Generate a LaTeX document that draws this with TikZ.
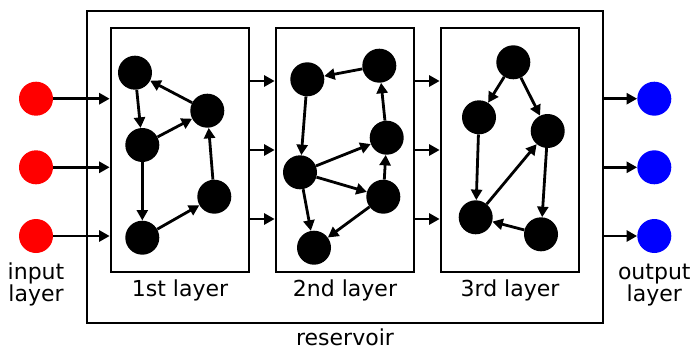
\documentclass[tikz,border=0pt]{standalone}
\usepackage{fontspec}
\setmainfont{DejaVu Sans}
\usetikzlibrary{arrows.meta}
\tikzset{
  neuron/.style={circle, fill=black, minimum size=34pt, inner sep=0pt},
  inneuron/.style={neuron, fill=red},
  outneuron/.style={neuron, fill=blue},
  frame/.style={draw, line width=2.7pt, inner sep=0pt},
  layerbox/.style={frame, minimum width=138pt, minimum height=244pt},
  arr/.style={-{Triangle[length=10.5pt,width=11pt]}, line width=2.8pt},
  lbl/.style={font=\fontsize{22}{22}\selectfont, inner sep=0pt, align=center}
}
\begin{document}
\begin{tikzpicture}[x=1pt,y=-1pt]
\useasboundingbox (0,0) rectangle (692,350);

% reservoir and its three layers
\node[frame, minimum width=516pt, minimum height=312pt] (res) at (345,167) {};
\node[layerbox] (box1) at (180,150) {};
\node[layerbox] (box2) at (345,150) {};
\node[layerbox] (box3) at (510,150) {};

% input and output neurons
\node[inneuron] (in1) at (36,98.7) {};
\node[inneuron] (in2) at (36,167.3) {};
\node[inneuron] (in3) at (36,236) {};
\node[outneuron] (out1) at (654.3,98.7) {};
\node[outneuron] (out2) at (654.3,167.3) {};
\node[outneuron] (out3) at (654.3,236) {};

% 1st layer
\node[neuron] (a1) at (135,72.7) {};
\node[neuron] (a2) at (207.3,110.7) {};
\node[neuron] (a3) at (142.3,145) {};
\node[neuron] (a4) at (214.3,196.7) {};
\node[neuron] (a5) at (142.3,237.7) {};
% 2nd layer
\node[neuron] (b1) at (307.3,79.3) {};
\node[neuron] (b2) at (379.3,65.7) {};
\node[neuron] (b3) at (386.7,137.7) {};
\node[neuron] (b4) at (300,172.3) {};
\node[neuron] (b5) at (383.3,196.7) {};
\node[neuron] (b6) at (314,247.7) {};
% 3rd layer
\node[neuron] (c1) at (513.3,62.3) {};
\node[neuron] (c2) at (479,117.3) {};
\node[neuron] (c3) at (547.7,131) {};
\node[neuron] (c4) at (475.7,217.3) {};
\node[neuron] (c5) at (541,234.3) {};

% recurrent connections
\draw[arr] (a1) -- (a3);
\draw[arr] (a2) -- (a1);
\draw[arr] (a3) -- (a2);
\draw[arr] (a3) -- (a5);
\draw[arr] (a5) -- (a4);
\draw[arr] (a4) -- (a2);

\draw[arr] (b2) -- (b1);
\draw[arr] (b1) -- (b4);
\draw[arr] (b4) -- (b3);
\draw[arr] (b4) -- (b5);
\draw[arr] (b5) -- (b3);
\draw[arr] (b3) -- (b2);
\draw[arr] (b5) -- (b6);
\draw[arr] (b4) -- (b6);

\draw[arr] (c1) -- (c2);
\draw[arr] (c1) -- (c3);
\draw[arr] (c2) -- (c4);
\draw[arr] (c4) -- (c3);
\draw[arr] (c3) -- (c5);
\draw[arr] (c5) -- (c4);

% feed-forward between layers
\coordinate (lvA) at (0,81);
\coordinate (lvB) at (0,150);
\coordinate (lvC) at (0,219);
\foreach \l in {lvA,lvB,lvC}{
  \draw[arr] (box1.east |- \l) -- (box2.west |- \l);
  \draw[arr] (box2.east |- \l) -- (box3.west |- \l);
}

% input and readout connections
\foreach \i in {1,2,3}{
  \draw[arr] (in\i) -- (box1.west |- in\i);
  \draw[arr] (res.east |- out\i) -- (out\i);
}

% labels (base = baseline of the last line)
\node[lbl, anchor=base] (tin) at (36,301.5) {input\\layer};
\node[lbl, anchor=base] (tout) at (654.3,301.5) {output\\layer};
\node[lbl, anchor=base] (t1) at (180,296) {1st layer};
\node[lbl, anchor=base] (t2) at (345,296) {2nd layer};
\node[lbl, anchor=base] (t3) at (510,296) {3rd layer};
\node[lbl, anchor=base] (tres) at (345,345) {reservoir};
\end{tikzpicture}
\end{document}
